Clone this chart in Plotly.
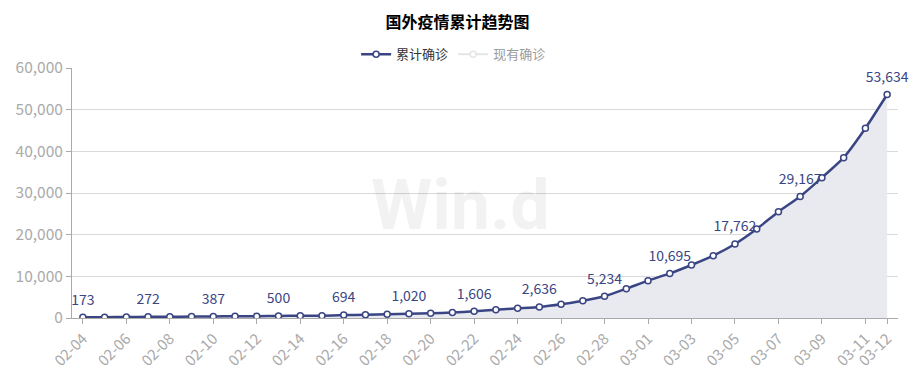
import plotly.graph_objects as go

dates = ["2020-02-%02d" % d for d in range(4, 30)] + ["2020-03-%02d" % d for d in range(1, 13)]
cumulative = [173, 200, 235, 272, 300, 335, 387, 415, 450, 500, 525, 570, 694, 790, 900,
              1020, 1130, 1300, 1606, 2000, 2330, 2636, 3280, 4160, 5234, 7040, 8960,
              10695, 12720, 14960, 17762, 21360, 25520, 29167, 33680, 38480, 45530, 53634]
label_dates = ["2020-02-04", "2020-02-07", "2020-02-10", "2020-02-13", "2020-02-16",
               "2020-02-19", "2020-02-22", "2020-02-25", "2020-02-28", "2020-03-02",
               "2020-03-05", "2020-03-08", "2020-03-12"]
tick_dates = ["2020-02-04", "2020-02-06", "2020-02-08", "2020-02-10", "2020-02-12",
              "2020-02-14", "2020-02-16", "2020-02-18", "2020-02-20", "2020-02-22",
              "2020-02-24", "2020-02-26", "2020-02-28", "2020-03-01", "2020-03-03",
              "2020-03-05", "2020-03-07", "2020-03-09", "2020-03-11", "2020-03-12"]
tick_text = [d[5:] for d in tick_dates]

NAVY = "#3a4584"
FONT = "Noto Sans CJK SC"

labels = ["{:,}".format(v) if d in label_dates else "" for d, v in zip(dates, cumulative)]

fig = go.Figure()
# area under the curve
fig.add_trace(go.Scatter(
    x=dates, y=cumulative, mode="lines", showlegend=False, hoverinfo="skip",
    line=dict(width=0, shape="spline", smoothing=0.6),
    fill="tozeroy", fillcolor="#e9e9f0",
))
fig.add_trace(go.Scatter(
    x=dates, y=cumulative, name="累计确诊",
    mode="lines+markers",
    line=dict(color=NAVY, width=2.5, shape="spline", smoothing=0.6),
    marker=dict(size=6, color="white", line=dict(color=NAVY, width=1.5)),
))
fig.add_trace(go.Scatter(
    x=[dates[0]], y=[None], name="现有确诊", mode="lines+markers",
    line=dict(color="#cccccc", width=2),
    marker=dict(size=6, color="white", line=dict(color="#cccccc", width=1.5)),
    visible="legendonly",
))
# data labels
fig.add_trace(go.Scatter(
    x=dates, y=cumulative, mode="markers+text", showlegend=False, hoverinfo="skip",
    marker=dict(size=13, opacity=0),
    text=labels, textposition="top center",
    textfont=dict(color=NAVY, size=14, family=FONT),
    cliponaxis=False,
))

fig.add_annotation(text="<b>Win.d</b>", x=0.5, y=0.5, xref="paper", yref="paper",
                   showarrow=False, font=dict(size=70, color="rgba(0,0,0,0.05)", family="Roboto"),
                   xshift=-25, yshift=-12)

fig.update_layout(
    width=915, height=379,
    margin=dict(l=72, r=17, t=68, b=61),
    paper_bgcolor="white", plot_bgcolor="white",
    font=dict(family=FONT, color="#999999", size=13),
    title=dict(text="<b>国外疫情累计趋势图</b>", x=0.5, xanchor="center", y=0.94, yanchor="middle",
               font=dict(size=16, color="#000000", family=FONT)),
    legend=dict(orientation="h", x=0.462, xanchor="center", y=1.055, yanchor="middle",
                font=dict(size=13, color="#333333", family=FONT)),
    showlegend=True,
)
fig.update_xaxes(
    type="date", range=["2020-02-03 12:00", "2020-03-12 12:00"],
    tickvals=tick_dates, ticktext=tick_text, tickangle=-45,
    showgrid=False, showline=True, linecolor="#aaaaaa", linewidth=1,
    ticks="outside", ticklen=5, tickcolor="#aaaaaa",
    tickfont=dict(size=15, color="#aaaaaa"), zeroline=False, automargin=False,
)
fig.update_yaxes(
    range=[0, 60000], dtick=10000, tickformat=",",
    showgrid=True, gridcolor="#d9d9d9", gridwidth=1,
    showline=True, linecolor="#aaaaaa", linewidth=1,
    ticks="outside", ticklen=5, tickcolor="#aaaaaa",
    tickfont=dict(size=15.5, color="#aaaaaa"), zeroline=False, automargin=False,
)

fig.write_html("out.html")
